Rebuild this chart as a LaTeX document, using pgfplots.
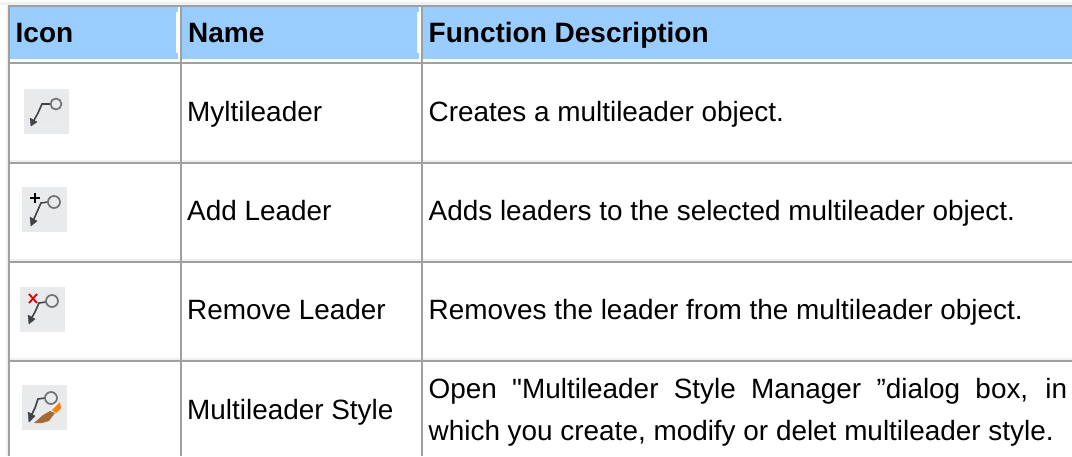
\documentclass[border=0pt]{standalone}
\usepackage{pgfplots}
\usepackage{fontspec}
\setmainfont{Liberation Sans}
\newfontfamily\plainq{Liberation Sans}
\pgfplotsset{compat=1.18}
\definecolor{hdr}{HTML}{99CCFF}
\definecolor{rule}{HTML}{A0A0A0}
\definecolor{band}{HTML}{F0F0F0}
\definecolor{iconbg}{HTML}{E9EAEC}
\definecolor{icon}{HTML}{404448}
\definecolor{ring}{HTML}{707478}
\tikzset{cell/.style={font=\fontsize{27.9}{32}\selectfont,inner sep=0pt,anchor=base west,text=black},
  head/.style={font=\fontsize{28}{32}\selectfont\bfseries,inner sep=0pt,anchor=base west,text=black}}
\begin{document}
\begin{tikzpicture}
\begin{axis}[x=1pt,y=-1pt,xmin=0,xmax=1072,ymin=0,ymax=456,hide axis,scale only axis,clip=true]
% page
\addplot[fill=white,draw=none] coordinates {(0,0)(1072,0)(1072,456)(0,456)} --cycle;
\addplot[fill=band,draw=none] coordinates {(0,2)(1072,2)(1072,5)(0,5)} --cycle;
\addplot[fill=band,draw=none] coordinates {(6,5)(8,5)(8,456)(6,456)} --cycle;
% faint lines above each rule
\addplot[band,line width=2pt] coordinates {(8,160.5)(1072,160.5)};
\addplot[band,line width=2pt] coordinates {(8,259.5)(1072,259.5)};
\addplot[band,line width=2pt] coordinates {(8,358.5)(1072,358.5)};
% header band
\addplot[fill=hdr,draw=none] coordinates {(9,6)(178,6)(178,59)(9,59)} --cycle;
\addplot[fill=hdr,draw=none] coordinates {(182,6)(419,6)(419,59)(182,59)} --cycle;
\addplot[fill=hdr,draw=none] coordinates {(423,6)(1072,6)(1072,59)(423,59)} --cycle;
\addplot[white,line width=2pt] coordinates {(177,12)(177,53)};
\addplot[white,line width=2pt] coordinates {(418,12)(418,53)};
% horizontal rules
\addplot[rule,line width=2pt] coordinates {(8,5.5)(1072,5.5)};
\addplot[rule,line width=2pt] coordinates {(8,63)(1072,63)};
\addplot[rule,line width=2pt] coordinates {(8,163)(1072,163)};
\addplot[rule,line width=2pt] coordinates {(8,262)(1072,262)};
\addplot[rule,line width=2pt] coordinates {(8,361)(1072,361)};
% vertical rules
\addplot[rule,line width=2pt] coordinates {(9,5)(9,456)};
\addplot[rule,line width=2pt] coordinates {(181,5)(181,456)};
\addplot[rule,line width=2pt] coordinates {(421.5,5)(421.5,456)};
% header text
\node[head] at (axis cs:15.5,42) {Icon};
\node[head] at (axis cs:188,42) {Name};
\node[head] at (axis cs:428.5,42) {Function Description};
% body text
\node[cell] at (axis cs:187,121.5) {Myltileader};
\node[cell] at (axis cs:428.5,121.5) {Creates a multileader object.};
\node[cell] at (axis cs:187,220) {Add Leader};
\node[cell] at (axis cs:428.5,220) {Adds leaders to the selected multileader object.};
\node[cell] at (axis cs:187,319.5) {Remove Leader};
\node[cell] at (axis cs:428.5,319.5) {Removes the leader from the multileader object.};
\node[cell] at (axis cs:187,419) {Multileader Style};
\node[cell] at (axis cs:428.5,398) {\makebox[638.5pt][s]{Open {\plainq "}Multileader Style Manager ”dialog box, in}};
\node[cell] at (axis cs:428.5,440) {which you create, modify or delet multileader style.};
% icon 1
\addplot[fill=iconbg,draw=none] coordinates {(24,89)(69,89)(69,134)(24,134)} --cycle;
\addplot[white!85!gray,line width=1.5pt] coordinates {(35,126)(62,126)};
\addplot[icon,line width=1.6pt] coordinates {(51,104)(42,104)(38,113)(33,122)};
\addplot[icon,fill=icon] coordinates {(30,118)(37,122)(31,126)} --cycle;
\addplot[only marks,mark=o,mark size=5.5pt,mark options={ring,line width=1.7pt}] coordinates {(56,104)};
% icon 2
\addplot[fill=iconbg,draw=none] coordinates {(22,187)(67,187)(67,232)(22,232)} --cycle;
\addplot[icon,line width=1.6pt] coordinates {(48,202)(41,203)(37,212)(33,221)};
\addplot[icon,fill=icon] coordinates {(30,217)(37,221)(31,226)} --cycle;
\addplot[black,line width=1.7pt] coordinates {(30,198)(40,198)};
\addplot[black,line width=1.7pt] coordinates {(35,193)(35,203)};
\addplot[only marks,mark=o,mark size=6pt,mark options={ring,line width=1.7pt}] coordinates {(54,202)};
% icon 3
\addplot[fill=iconbg,draw=none] coordinates {(20,287)(65,287)(65,332)(20,332)} --cycle;
\addplot[icon,line width=1.6pt] coordinates {(46,302)(39,303)(35,312)(31,319)};
\addplot[icon,fill=icon] coordinates {(28,315)(35,319)(29,324)} --cycle;
\addplot[red!85!black,line width=1.8pt] coordinates {(29,294)(37,303)};
\addplot[red!85!black,line width=1.8pt] coordinates {(37,294)(29,303)};
\addplot[only marks,mark=o,mark size=6pt,mark options={ring,line width=1.7pt}] coordinates {(52,301)};
% icon 4
\addplot[fill=iconbg,draw=none] coordinates {(22,385)(67,385)(67,430)(22,430)} --cycle;
\addplot[icon,line width=1.6pt] coordinates {(45,398)(38,399)(35,408)(31,416)};
\addplot[icon,fill=icon] coordinates {(28,412)(35,416)(29,422)} --cycle;
\addplot[only marks,mark=o,mark size=6pt,mark options={ring,line width=1.7pt}] coordinates {(51,398)};
\addplot[fill=brown!85!black,draw=none] coordinates {(34,423)(43,415)(50,411)(55,413)(49,421)(42,423)} --cycle;
\addplot[fill=orange,draw=none] coordinates {(52,410)(60,402)(61,408)(56,413)} --cycle;
\addplot[white,line width=0.8pt] coordinates {(51,409)(56,404)};
\end{axis}
\end{tikzpicture}
\end{document}
